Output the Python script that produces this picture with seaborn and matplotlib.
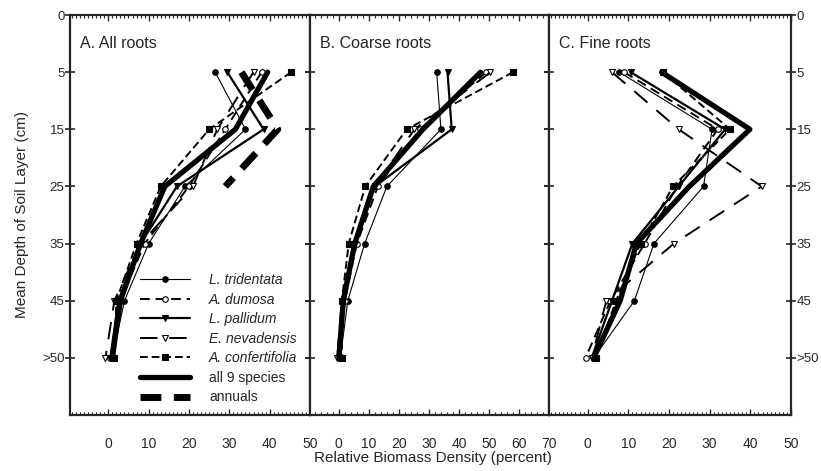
import matplotlib
matplotlib.use("Agg")
import numpy as np
import pandas as pd
import seaborn as sns
from matplotlib import pyplot as plt
from matplotlib.ticker import MultipleLocator

# depth layers (plotted at equal spacing, 0 = soil surface)
depth_pos = [1, 2, 3, 4, 5, 6]
depth_labels = ["0", "5", "15", "25", "35", "45", ">50"]

species = ["L. tridentata", "A. dumosa", "L. pallidum", "E. nevadensis",
           "A. confertifolia", "all 9 species", "annuals"]

# A. All roots
all_tridentata = [26.5, 34.0, 19.0, 10.0, 4.0, 1.0]
all_dumosa = [38.0, 29.0, 20.0, 9.0, 3.0, 0.5]
all_pallidum = [29.5, 38.5, 17.0, 8.0, 2.5, 0.5]
all_nevadensis = [36.0, 27.0, 21.0, 8.0, 1.5, -0.7]
all_confertifolia = [45.3, 25.0, 13.0, 7.0, 2.0, 1.5]
all_all9 = [39.5, 31.5, 14.0, 8.0, 3.0, 1.0]
all_annuals = [33.0, 42.0, 29.0]

# B. Coarse roots
coarse_tridentata = [32.6, 34.0, 16.0, 8.6, 3.0, 0.5]
coarse_dumosa = [49.0, 27.0, 13.0, 6.0, 2.0, 0.0]
coarse_pallidum = [36.2, 37.6, 12.0, 5.5, 1.5, 0.5]
coarse_nevadensis = [50.5, 25.2, 12.0, 5.0, 1.0, -0.5]
coarse_confertifolia = [58.0, 22.6, 8.8, 3.3, 1.0, 1.0]
coarse_all9 = [47.2, 28.0, 11.5, 5.3, 1.5, 0.0]

# C. Fine roots
fine_tridentata = [7.8, 30.6, 28.5, 16.3, 11.5, 1.5]
fine_dumosa = [9.0, 32.0, 22.0, 14.0, 5.6, -0.5]
fine_pallidum = [10.6, 33.8, 22.4, 11.0, 6.0, 1.0]
fine_nevadensis = [6.0, 22.4, 42.8, 21.2, 4.6, 1.0]
fine_confertifolia = [18.5, 35.0, 21.0, 13.0, 7.0, 2.0]
fine_all9 = [18.2, 39.9, 25.0, 12.0, 8.0, 1.5]

panels = {
    "A. All roots": [all_tridentata, all_dumosa, all_pallidum, all_nevadensis,
                     all_confertifolia, all_all9, all_annuals],
    "B. Coarse roots": [coarse_tridentata, coarse_dumosa, coarse_pallidum, coarse_nevadensis,
                        coarse_confertifolia, coarse_all9, None],
    "C. Fine roots": [fine_tridentata, fine_dumosa, fine_pallidum, fine_nevadensis,
                      fine_confertifolia, fine_all9, None],
}

rows = []
for panel, series in panels.items():
    for name, vals in zip(species, series):
        if vals is None:
            continue
        for x, d in zip(vals, depth_pos):
            rows.append({"panel": panel, "species": name, "x": x, "depth": d})
df = pd.DataFrame(rows)

styles = {
    "L. tridentata": dict(lw=0.8, ls="-", marker="o", ms=4, mfc="k"),
    "A. dumosa": dict(lw=1.4, ls=(0, (5, 3)), marker="o", ms=4, mfc="w"),
    "L. pallidum": dict(lw=1.6, ls="-", marker="v", ms=5, mfc="k"),
    "E. nevadensis": dict(lw=1.4, ls=(0, (9, 6)), marker="v", ms=5, mfc="w"),
    "A. confertifolia": dict(lw=1.4, ls=(0, (4, 2)), marker="s", ms=4, mfc="k"),
    "all 9 species": dict(lw=3.8, ls="-", marker=None, ms=0, mfc="k"),
    "annuals": dict(lw=5.0, ls=(0, (3, 1.8)), marker=None, ms=0, mfc="k"),
}

sns.set_style("ticks")
plt.rcParams["font.family"] = ["Liberation Sans", "DejaVu Sans"]

fig = plt.figure(figsize=(8.21, 4.71), dpi=100)
bottom, height = 0.119, 0.849
axes = [
    fig.add_axes([70 / 821, bottom, 240 / 821, height]),
    fig.add_axes([310 / 821, bottom, 239 / 821, height]),
    fig.add_axes([549 / 821, bottom, 242 / 821, height]),
]
xlims = [(-9.5, 50), (-9.6, 70), (-9.5, 50)]
xmax_ticks = [50, 70, 50]
minor_step = [1, 2, 1]

for i, (ax, panel) in enumerate(zip(axes, panels)):
    sub = df[df["panel"] == panel]
    for name in species:
        s = sub[sub["species"] == name]
        if s.empty:
            continue
        st = styles[name]
        sns.lineplot(data=s, x="x", y="depth", orient="y", sort=False, estimator=None,
                     ax=ax, color="k", linewidth=st["lw"], linestyle=st["ls"],
                     marker=st["marker"], markersize=st["ms"], markerfacecolor=st["mfc"],
                     mec="k", mew=0.8, label=name if i == 0 else None, legend=False)

    ax.set_xlim(*xlims[i])
    ax.set_ylim(7, 0)
    ax.set_xticks(np.arange(0, xmax_ticks[i] + 1, 10))
    ax.xaxis.set_minor_locator(MultipleLocator(minor_step[i]))
    ax.set_yticks(range(7))
    ax.set_yticklabels(depth_labels)
    ax.set_xlabel("")
    ax.set_ylabel("")
    ax.tick_params(axis="x", which="major", direction="in", length=4, width=1,
                   top=True, bottom=True, labelsize=10, pad=16)
    ax.tick_params(axis="x", which="minor", direction="in", length=2, width=0.8,
                   top=True, bottom=True)
    ax.tick_params(axis="y", which="major", direction="inout", length=7, width=1.2,
                   left=True, right=True, labelsize=9.5, pad=0.5,
                   labelleft=(i == 0), labelright=(i == 2))
    for sp in ax.spines.values():
        sp.set_linewidth(1.6)
        sp.set_visible(True)
    ax.text(0.04, 0.93, panel, transform=ax.transAxes, fontsize=11.5, va="center")

leg = axes[0].legend(loc="lower right", bbox_to_anchor=(1.0, -0.005), frameon=False,
                     fontsize=10, handlelength=3.6, labelspacing=0.4, handletextpad=1.4,
                     numpoints=1)
for t in leg.get_texts()[:5]:
    t.set_fontstyle("italic")

fig.text(0.527, 0.027, "Relative Biomass Density (percent)", ha="center", va="center",
         fontsize=11)
fig.text(0.027, 0.545, "Mean Depth of Soil Layer (cm)", ha="center", va="center",
         rotation=90, fontsize=11)

fig.savefig("out.png", dpi=100)
